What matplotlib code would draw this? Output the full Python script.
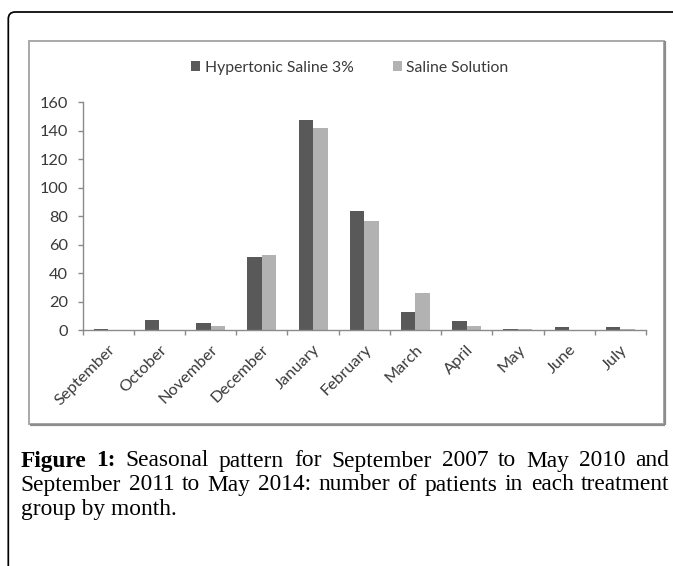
import matplotlib
matplotlib.use("Agg")
import matplotlib.pyplot as plt
from matplotlib.patches import Rectangle, PathPatch
from matplotlib.path import Path
import numpy as np

# ---------------- data ----------------
months = ["September", "October", "November", "December", "January",
          "February", "March", "April", "May", "June", "July"]
hypertonic = [1, 7, 5, 51, 148, 84, 13, 6, 1, 2, 2]
saline = [0, 0, 3, 53, 142, 77, 26, 3, 1, 0, 1]
series_names = ["Hypertonic Saline 3%", "Saline Solution"]
yticks = [0, 20, 40, 60, 80, 100, 120, 140, 160]
caption_bold = ["Figure", "1:"]
caption_line1 = ["Seasonal", "pattern", "for", "September", "2007", "to", "May", "2010", "and"]
caption_line2 = ["September", "2011", "to", "May", "2014:", "number", "of", "patients",
                 "in", "each", "treatment"]
caption_line3 = "group by month."

# ---------------- style ----------------
W, H = 673, 566
dark = "#595959"
light = "#b2b2b2"
axis_col = "#8a8a8a"
txt_col = "#3a3a3a"
sans = ["Lato", "DejaVu Sans"]
serif = ["Liberation Serif", "DejaVu Serif"]
lab_fs = 11.8

fig = plt.figure(figsize=(W / 100, H / 100), dpi=100)
fig.patch.set_facecolor("white")

bg = fig.add_axes([0, 0, 1, 1], zorder=0)
bg.set_xlim(0, W)
bg.set_ylim(H, 0)
bg.axis("off")

# outer rounded border (top and left)
r = 7
verts = [(8.3, H + 5), (8.3, 12 + r), (8.3, 12), (8.3 + r, 12), (W + 5, 12)]
codes = [Path.MOVETO, Path.LINETO, Path.CURVE3, Path.CURVE3, Path.LINETO]
bg.add_patch(PathPatch(Path(verts, codes), fill=False, ec="black", lw=1.25))

# chart panel
bg.add_patch(Rectangle((29, 40.5), 635, 383.5, fc="white", ec="#a8a8a8", lw=1.4))
bg.plot([30, 664.5], [424.5, 424.5], color="#8c8c8c", lw=1.6, solid_capstyle="butt")
bg.plot([664.5, 664.5], [41, 425], color="#8c8c8c", lw=1.6, solid_capstyle="butt")

# chart axes
ax_l, ax_r, ax_t, ax_b = 82.5, 646, 102.5, 330
ax = fig.add_axes([ax_l / W, 1 - ax_b / H, (ax_r - ax_l) / W, (ax_b - ax_t) / H], zorder=1)
ax.set_facecolor("none")
x = np.arange(len(months))
bw = 0.283
b1 = ax.bar(x - bw / 2, hypertonic, bw, color=dark, label=series_names[0])
b2 = ax.bar(x + bw / 2, saline, bw, color=light, label=series_names[1])
ax.set_xlim(-0.5, len(months) - 0.5)
ax.set_ylim(0, 160)
for s in ["top", "right"]:
    ax.spines[s].set_visible(False)
for s in ["left", "bottom"]:
    ax.spines[s].set_color(axis_col)
    ax.spines[s].set_linewidth(1.0)

ax.set_yticks(yticks)
ax.set_yticklabels([str(v) for v in yticks])
ax.tick_params(axis="y", direction="out", length=3.6, width=1.0, color=axis_col,
               labelcolor=txt_col, labelsize=lab_fs, pad=7)
ax.set_xticks(np.arange(-0.5, len(months), 1.0))
ax.set_xticklabels([])
ax.tick_params(axis="x", which="major", direction="out", length=3.6, width=1.0, color=axis_col)
ax.set_xticks(x, minor=True)
ax.set_xticklabels(months, minor=True)
ax.tick_params(axis="x", which="minor", length=0, labelcolor=txt_col, labelsize=lab_fs, pad=9)
for lab in ax.get_xticklabels(minor=True):
    lab.set_rotation(45)
    lab.set_rotation_mode("anchor")
    lab.set_ha("right")
    lab.set_va("top")
    lab.set_family(sans)
for lab in ax.get_yticklabels():
    lab.set_family(sans)

leg = fig.legend(handles=[b1, b2], labels=series_names, loc="center",
                 bbox_to_anchor=(350 / W, 1 - 68 / H), ncol=2, frameon=False,
                 prop={"family": sans, "size": 11.3}, handlelength=0.55, handleheight=0.6,
                 handletextpad=0.3, columnspacing=2.5)
for t in leg.get_texts():
    t.set_color(txt_col)

# caption (justified)
cap_fs = 16.8
left, right = 20.7, 669.5
renderer = fig.canvas.get_renderer()


def draw_justified(words, weights, y, justify=True):
    texts = []
    for w, wt in zip(words, weights):
        t = bg.text(0, y, w, fontsize=cap_fs, family=serif, weight=wt,
                    ha="left", va="baseline", color="black")
        texts.append(t)
    widths = [t.get_window_extent(renderer).width for t in texts]
    if justify:
        gap = (right - left - sum(widths)) / (len(words) - 1)
    else:
        gap = cap_fs * 100 / 72 * 0.25
    xpos = left
    for t, wdt in zip(texts, widths):
        t.set_x(xpos)
        xpos += wdt + gap


draw_justified(caption_bold + caption_line1,
               ["bold"] * len(caption_bold) + ["normal"] * len(caption_line1), 466.5)
draw_justified(caption_line2, ["normal"] * len(caption_line2), 490.5)
bg.text(left, 514.5, caption_line3, fontsize=cap_fs, family=serif, ha="left",
        va="baseline", color="black")

fig.savefig("out.png", dpi=100, facecolor="white")
